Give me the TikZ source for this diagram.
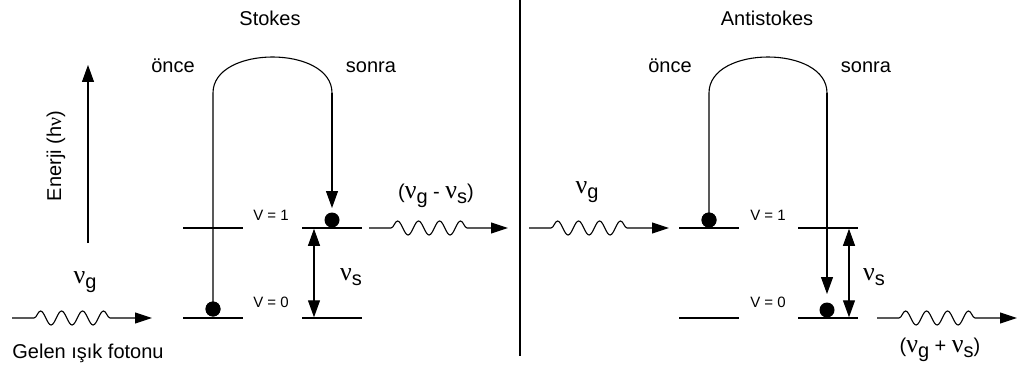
\documentclass[tikz,border=0pt]{standalone}
\usepackage{fontspec}
\setmainfont{Liberation Sans}
\newfontfamily\nufont{Liberation Serif}
\usetikzlibrary{arrows.meta,decorations.pathmorphing}
\newcommand{\nuu}{{\nufont\fontsize{26}{26}\selectfont ν}}
\newcommand{\lowsub}[1]{\raisebox{-5pt}{#1}}
\tikzset{
  txt/.style={font=\fontsize{20}{24}\selectfont, inner sep=0pt},
  small/.style={font=\fontsize{15}{18}\selectfont, inner sep=0pt},
  lvl/.style={line width=1.3pt},
  dot/.style={circle, fill=black, minimum size=15pt, inner sep=0pt},
  tipto/.style={-{Triangle[length=17pt,width=12pt]}},
  dbl/.style={{Triangle[length=17pt,width=12pt]}-{Triangle[length=17pt,width=12pt]}},
  photon/.style={decorate, decoration={snake, segment length=21pt, amplitude=7pt, pre length=22pt, post length=34pt}, -{Triangle[length=17pt,width=11pt]}}
}
\begin{document}
\begin{tikzpicture}[x=1pt,y=-1pt,line width=1.1pt]
\useasboundingbox (0,0) rectangle (1018,369);

% divider
\coordinate (divT) at (520,0);
\coordinate (divB) at (520,356);
\draw (divT) -- (divB);

% titles
\node[txt,anchor=base] (stokes) at (270,26) {Stokes};
\node[txt,anchor=base] (anti) at (767,26) {Antistokes};
\node[txt,anchor=base] (once1) at (173,73) {önce};
\node[txt,anchor=base] (sonra1) at (371,73) {sonra};
\node[txt,anchor=base] (once2) at (670,73) {önce};
\node[txt,anchor=base] (sonra2) at (866,73) {sonra};

% energy axis
\coordinate (eB) at (88,243);
\coordinate (eT) at (88,65);
\draw[tipto] (eB) -- (eT);
\node[txt,rotate=90] (enerji) at (56,156) {Enerji (h{\nufont ν})};

% incoming photon
\coordinate (p1a) at (12,318);
\coordinate (p1b) at (152,318);
\draw[photon] (p1a) -- (p1b);
\node[txt,anchor=base] (nug1) at (85,283) {\nuu\lowsub{g}};
\node[txt,anchor=base] (gelen) at (88,358) {Gelen ışık fotonu};

% ---- Stokes levels
\coordinate (sA0l) at (183,318); \coordinate (sA0r) at (243,318);
\coordinate (sA1l) at (183,228); \coordinate (sA1r) at (243,228);
\coordinate (sB0l) at (302,318); \coordinate (sB0r) at (362,318);
\coordinate (sB1l) at (302,228); \coordinate (sB1r) at (362,228);
\draw[lvl] (sA0l) -- (sA0r);
\draw[lvl] (sA1l) -- (sA1r);
\draw[lvl] (sB0l) -- (sB0r);
\draw[lvl] (sB1l) -- (sB1r);
\node[small,anchor=base] (sv1) at (271,220) {V = 1};
\node[small,anchor=base] (sv0) at (271,307) {V = 0};

% Stokes loop
\coordinate (sL) at (213,93);
\coordinate (sR) at (332,93);
\coordinate (sTip) at (332,208);
\node[dot] (sdot0) at (213,309) {};
\node[dot] (sdot1) at (332,220) {};
\draw (sdot0.center) -- (sL) .. controls (213,45) and (332,45) .. (sR);
\draw[tipto] (sR) -- (sTip);
\node[dot] at (sdot0) {};

% Stokes double arrow
\coordinate (sdT) at (314,228.8);
\coordinate (sdB) at (314,317.3);
\draw[dbl] (sdT) -- (sdB);
\node[txt,anchor=base] (nus1) at (351,280) {\nuu\lowsub{s}};

% scattered Stokes photon
\coordinate (p2a) at (369,228);
\coordinate (p2b) at (508,228);
\draw[photon] (p2a) -- (p2b);
\node[txt,anchor=base] (lab2) at (436,198) {(\nuu\lowsub{g} - \nuu\lowsub{s})};

% incoming antistokes photon
\coordinate (p3a) at (529,228);
\coordinate (p3b) at (669,228);
\draw[photon] (p3a) -- (p3b);
\node[txt,anchor=base] (nug2) at (587,193) {\nuu\lowsub{g}};

% ---- Antistokes levels
\coordinate (aA0l) at (679,318); \coordinate (aA0r) at (739,318);
\coordinate (aA1l) at (679,228); \coordinate (aA1r) at (739,228);
\coordinate (aB0l) at (798,318); \coordinate (aB0r) at (858,318);
\coordinate (aB1l) at (798,228); \coordinate (aB1r) at (858,228);
\draw[lvl] (aA0l) -- (aA0r);
\draw[lvl] (aA1l) -- (aA1r);
\draw[lvl] (aB0l) -- (aB0r);
\draw[lvl] (aB1l) -- (aB1r);
\node[small,anchor=base] (av1) at (768,220) {V = 1};
\node[small,anchor=base] (av0) at (768,307) {V = 0};

% Antistokes loop
\coordinate (aL) at (709,93);
\coordinate (aR) at (827,93);
\coordinate (aTip) at (827,294);
\node[dot] (adot1) at (709,220) {};
\node[dot] (adot0) at (827,310) {};
\draw (adot1.center) -- (aL) .. controls (709,45) and (827,45) .. (aR);
\draw[tipto] (aR) -- (aTip);
\node[dot] at (adot1) {};

% Antistokes double arrow
\coordinate (adT) at (849,228.8);
\coordinate (adB) at (849,317.3);
\draw[dbl] (adT) -- (adB);
\node[txt,anchor=base] (nus2) at (874,280) {\nuu\lowsub{s}};

% scattered antistokes photon
\coordinate (p4a) at (877,318);
\coordinate (p4b) at (1017,318);
\draw[photon] (p4a) -- (p4b);
\node[txt,anchor=base] (lab4) at (940,352) {(\nuu\lowsub{g} + \nuu\lowsub{s})};
\end{tikzpicture}
\end{document}
